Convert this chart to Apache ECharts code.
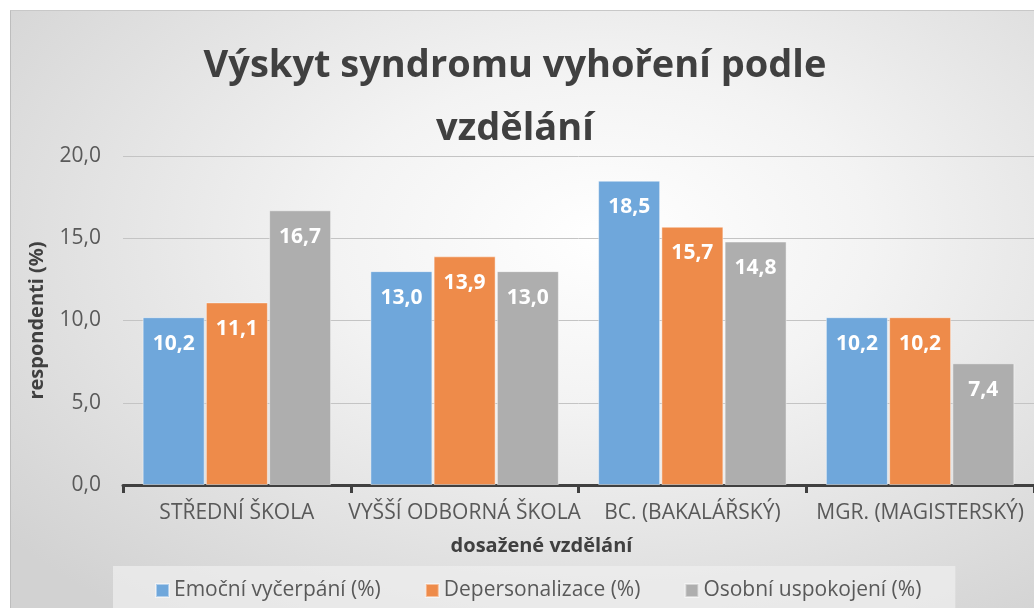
<!DOCTYPE html>
<html>
<head>
<meta charset="utf-8">
<script src="https://cdn.jsdelivr.net/npm/echarts@6/dist/echarts.min.js"></script>
<style>
  html, body { margin: 0; padding: 0; background: #ffffff; }
  #chart {
    position: absolute;
    left: 10px;
    top: 10px;
    width: 1024px;
    height: 598px;
    box-sizing: border-box;
    border-left: 1px solid #bdbdbd;
    border-top: 1px solid #c8c8c8;
    background: radial-gradient(ellipse 75% 80% at 58% 38%, #ffffff 0%, #f3f3f3 35%, #d2d2d2 100%);
  }
</style>
</head>
<body>
<div id="chart"></div>
<script>
const categories = ['STŘEDNÍ ŠKOLA', 'VYŠŠÍ ODBORNÁ ŠKOLA', 'BC. (BAKALÁŘSKÝ)', 'MGR. (MAGISTERSKÝ)']
const seriesNames = ['Emoční vyčerpání (%)', 'Depersonalizace (%)', 'Osobní uspokojení (%)']
const emocniVycerpani = [10.2, 13.0, 18.5, 10.2]
const depersonalizace = [11.1, 13.9, 15.7, 10.2]
const osobniUspokojeni = [16.7, 13.0, 14.8, 7.4]
const colors = ['#6fa7db', '#ee8b4a', '#aeaeae']

const fontFamily = 'Open Sans'
const textColor = '#595959'
const fmt = value => value.toFixed(1).replace('.', ',')

const myChart = echarts.init(document.getElementById('chart'))

function barSeries (name, data, color) {
  return {
    name: name,
    type: 'bar',
    data: data,
    barWidth: 62,
    barGap: '2%',
    itemStyle: {
      color: color,
      borderColor: 'rgba(255,255,255,0.45)',
      borderWidth: 1
    },
    label: {
      show: true,
      position: 'insideTop',
      distance: 16,
      color: '#ffffff',
      fontFamily: fontFamily,
      fontWeight: 'bold',
      fontSize: 21,
      formatter: p => fmt(p.value)
    }
  }
}

myChart.setOption({
  backgroundColor: 'transparent',
  textStyle: { fontFamily: fontFamily },
  title: {
    text: 'Výskyt syndromu vyhoření podle\nvzdělání',
    left: 499,
    textAlign: 'center',
    top: 19,
    textStyle: {
      color: '#404040',
      fontFamily: fontFamily,
      fontWeight: 'bold',
      fontSize: 38,
      lineHeight: 63
    }
  },
  legend: {
    data: seriesNames,
    left: 102,
    top: 555,
    padding: [14, 34, 14, 42],
    backgroundColor: 'rgba(238,238,238,0.75)',
    icon: 'rect',
    itemWidth: 13,
    itemHeight: 13,
    itemGap: 44,
    textStyle: {
      color: textColor,
      fontSize: 21,
      fontFamily: fontFamily
    }
  },
  grid: {
    left: 112,
    top: 145,
    width: 920,
    height: 329
  },
  xAxis: {
    type: 'category',
    data: categories,
    name: 'dosažené vzdělání',
    nameLocation: 'middle',
    nameGap: 51,
    nameTextStyle: {
      color: '#404040',
      fontWeight: 'bold',
      fontSize: 20,
      padding: [0, 74, 0, 0]
    },
    axisLine: { lineStyle: { color: '#404040', width: 3 } },
    axisTick: { show: true, length: 8, lineStyle: { color: '#404040', width: 3 } },
    axisLabel: {
      color: textColor,
      fontSize: 21,
      margin: 18,
      interval: 0
    }
  },
  yAxis: {
    type: 'value',
    min: 0,
    max: 20,
    interval: 5,
    name: 'respondenti (%)',
    nameLocation: 'middle',
    nameGap: 76,
    nameTextStyle: {
      color: '#404040',
      fontWeight: 'bold',
      fontSize: 20
    },
    axisLine: { show: false },
    axisTick: { show: false },
    splitLine: { lineStyle: { color: '#c4c4c4', width: 1 } },
    axisLabel: {
      color: textColor,
      fontSize: 21,
      margin: 22,
      formatter: fmt
    }
  },
  series: [
    barSeries(seriesNames[0], emocniVycerpani, colors[0]),
    barSeries(seriesNames[1], depersonalizace, colors[1]),
    barSeries(seriesNames[2], osobniUspokojeni, colors[2])
  ]
})
</script>
</body>
</html>
